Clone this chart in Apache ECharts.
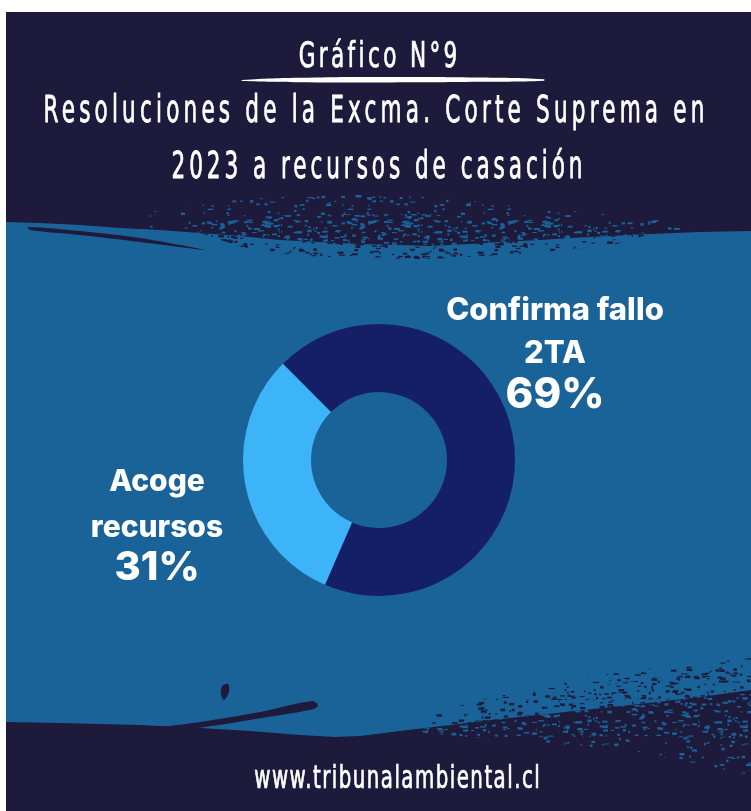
<!DOCTYPE html>
<html><head><meta charset="utf-8">
<script src="https://cdn.jsdelivr.net/npm/echarts@6/dist/echarts.min.js"></script>
<style>html,body{margin:0;padding:0;background:#fff}#c{width:751px;height:811px}</style>
</head><body><div id="c"></div>
<script>
// ---- data ----
const categories = ['Confirma fallo\n2TA', 'Acoge\nrecursos'];
const values = [69, 31];
const titleLines = ['Gráfico N°9', 'Resoluciones de la Excma. Corte Suprema en', '2023 a recursos de casación'];
const footerText = 'www.tribunalambiental.cl';

// ---- styles ----
const sliceColors = ['#151f66', '#3db4f8'];
const DARK = '#1e1a3b', BLUE = '#1a6399';
const COND = "'DejaVu Sans Condensed', 'DejaVu Sans', sans-serif";
const LABF = "Inter, 'Open Sans', sans-serif";
const mctx = document.createElement('canvas').getContext('2d');
const canSpace = 'letterSpacing' in CanvasRenderingContext2D.prototype;
const spacing = {};

function fitText(text, cx, capCenter, fs, targetW, capH, capRatio, gx, zl) {
  mctx.font = fs + 'px ' + COND;
  const w0 = mctx.measureText(text).width;
  const n = Array.from(text).length;
  let ls = 0, sx = targetW / w0;
  if (canSpace) {
    ls = (targetW / gx - w0) / n;
    if (ls > 0) { sx = gx; } else { ls = 0; }
  }
  spacing[zl] = ls;
  const sy = capH / (fs * capRatio);
  return {
    type: 'text', zlevel: zl, x: cx + ls * sx / 2, y: capCenter + 0.068 * fs * sy, scaleX: sx, scaleY: sy, z: 10,
    style: { text: text, font: fs + 'px ' + COND, fill: '#ffffff', stroke: '#ffffff', lineWidth: 0.5, align: 'center', verticalAlign: 'middle' }
  };
}

// deterministic brush-speckle texture
function speckle(color, count, seed) {
  const c = document.createElement('canvas'); c.width = 140; c.height = 70;
  const g = c.getContext('2d'); g.fillStyle = color;
  let s = seed;
  const nx = () => { s = (s * 16807) % 2147483647; return (s - 1) / 2147483646; };
  for (let i = 0; i < count; i++) {
    const x = nx() * 140, y = nx() * 70, w = 1 + nx() * 5, h = 1 + nx() * 1.6;
    g.fillRect(x, y, w, h);
  }
  return { image: c, repeat: 'repeat' };
}
const blueDots = speckle(BLUE, 260, 12345);
const blueDotsLight = speckle(BLUE, 110, 777);
const darkDots = speckle(DARK, 260, 4242);
const darkDotsLight = speckle(DARK, 110, 999);

const bg = [
  { type: 'rect', z: 0, shape: { x: 6, y: 12, width: 745, height: 799 }, style: { fill: DARK } },
  { type: 'polygon', z: 1, shape: { points: [
      [6,222],[40,223],[80,225],[120,228],[160,230],[200,233],[240,236],[280,240],[320,242],[360,244],[400,245],[430,246],[470,244],[500,242],[540,240],[570,238],[610,236],[650,234],[700,232],[751,231],
      [751,690],[700,697],[640,704],[575,711],[500,719],[450,725],[400,731],[360,736],[335,737],[300,735],[250,731],[200,728],[140,725],[100,724],[60,723],[6,722]
    ] }, style: { fill: BLUE } },
  // texture near top edge
  { type: 'polygon', z: 2, shape: { points: [[150,212],[230,200],[330,194],[430,197],[520,205],[600,214],[680,222],[700,232],[650,234],[570,238],[500,242],[430,246],[360,244],[280,240],[200,233],[150,230]] }, style: { fill: blueDotsLight } },
  { type: 'polygon', z: 2, shape: { points: [[200,222],[300,214],[420,214],[540,220],[620,228],[650,234],[570,238],[500,242],[430,246],[360,244],[280,240],[200,233]] }, style: { fill: blueDots } },
  { type: 'polygon', z: 2, shape: { points: [[200,233],[280,240],[360,244],[430,246],[500,242],[570,238],[650,234],[610,246],[520,254],[430,259],[330,258],[250,250]] }, style: { fill: darkDots } },
  { type: 'polygon', z: 2, shape: { smooth: 0.3, points: [[28,227],[80,231],[140,238],[205,250],[140,242],[80,235],[30,230]] }, style: { fill: DARK } },
  // texture near bottom edge
  { type: 'polygon', z: 2, shape: { points: [[400,731],[450,718],[520,700],[600,686],[680,674],[751,666],[751,690],[700,697],[640,704],[575,711],[500,719],[450,725]] }, style: { fill: darkDots } },
  { type: 'polygon', z: 2, shape: { points: [[420,716],[520,690],[620,672],[751,658],[751,668],[600,686],[520,700],[440,722]] }, style: { fill: darkDotsLight } },
  { type: 'polygon', z: 2, shape: { points: [[400,731],[450,725],[500,719],[575,711],[640,704],[700,697],[751,690],[751,740],[700,738],[640,736],[560,737],[480,738]] }, style: { fill: blueDots } },
  { type: 'polygon', z: 2, shape: { points: [[480,738],[560,737],[640,736],[700,738],[751,740],[751,775],[700,765],[640,752],[560,744]] }, style: { fill: blueDotsLight } },
  { type: 'polygon', z: 2, shape: { smooth: 0.3, points: [[150,729],[200,722],[260,712],[312,701],[318,705],[314,709],[262,718],[205,727],[160,731]] }, style: { fill: DARK } },
  { type: 'polygon', z: 2, shape: { smooth: 0.3, points: [[222,686],[228,684],[229,692],[224,700],[221,694]] }, style: { fill: DARK } },
  // title underline
  { type: 'polygon', z: 10, shape: { smooth: 0.5, points: [[242,80],[300,77.8],[391,77],[480,77.6],[544,79.3],[544,80.7],[480,81.8],[391,82.4],[300,82.2],[242,81]] }, style: { fill: '#ffffff' } }
];

const texts = [
  fitText(titleLines[0], 378, 55, 24, 162, 26, 0.729, 1.0, 1),
  fitText(titleLines[1], 374, 110, 24, 665, 27, 0.729, 1.0, 2),
  fitText(titleLines[2], 377, 166, 24, 415, 27, 0.729, 1.0, 3),
  fitText(footerText, 397, 778, 22, 287, 24, 0.76, 1.0, 4)
];

const labelPos = [{ x: 555, y: 352 }, { x: 157, y: 522 }];
const labelRich = [
  { n: { fontFamily: LABF, fontWeight: 800, fontSize: 31, color: '#fff', lineHeight: 43 },
    p: { fontFamily: LABF, fontWeight: 800, fontSize: 42, color: '#fff', lineHeight: 39 } },
  { n: { fontFamily: LABF, fontWeight: 800, fontSize: 30, color: '#fff', lineHeight: 46 },
    p: { fontFamily: LABF, fontWeight: 800, fontSize: 40, color: '#fff', lineHeight: 34 } }
];

const chart = echarts.init(document.getElementById('c'), null, { renderer: 'canvas' });
chart.setOption({
  animation: false,
  backgroundColor: '#ffffff',
  graphic: { elements: bg.concat(texts) },
  series: [{
    type: 'pie', z: 5, silent: true,
    center: [379, 460], radius: [68, 136], startAngle: 135, clockwise: true,
    avoidLabelOverlap: false,
    data: categories.map((n, i) => ({
      name: n, value: values[i], itemStyle: { color: sliceColors[i] },
      label: { rich: labelRich[i] }
    })),
    label: {
      show: true, position: 'outside', align: 'center',
      formatter: p => p.name.split('\n').map(l => '{n|' + l + '}').join('\n') + '\n{p|' + p.value + '%}'
    },
    labelLine: { show: false },
    labelLayout: params => ({ x: labelPos[params.dataIndex].x, y: labelPos[params.dataIndex].y, align: 'center', verticalAlign: 'middle' })
  }]
});

// apply letter spacing to the title layers
try {
  if (canSpace) {
    const painter = chart.getZr().painter;
    Object.keys(spacing).forEach(z => {
      const layer = painter.getLayer(+z);
      if (layer && layer.ctx) layer.ctx.letterSpacing = spacing[z] + 'px';
    });
    painter.refresh(true);
  }
} catch (e) { console.log(e); }
</script></body></html>
